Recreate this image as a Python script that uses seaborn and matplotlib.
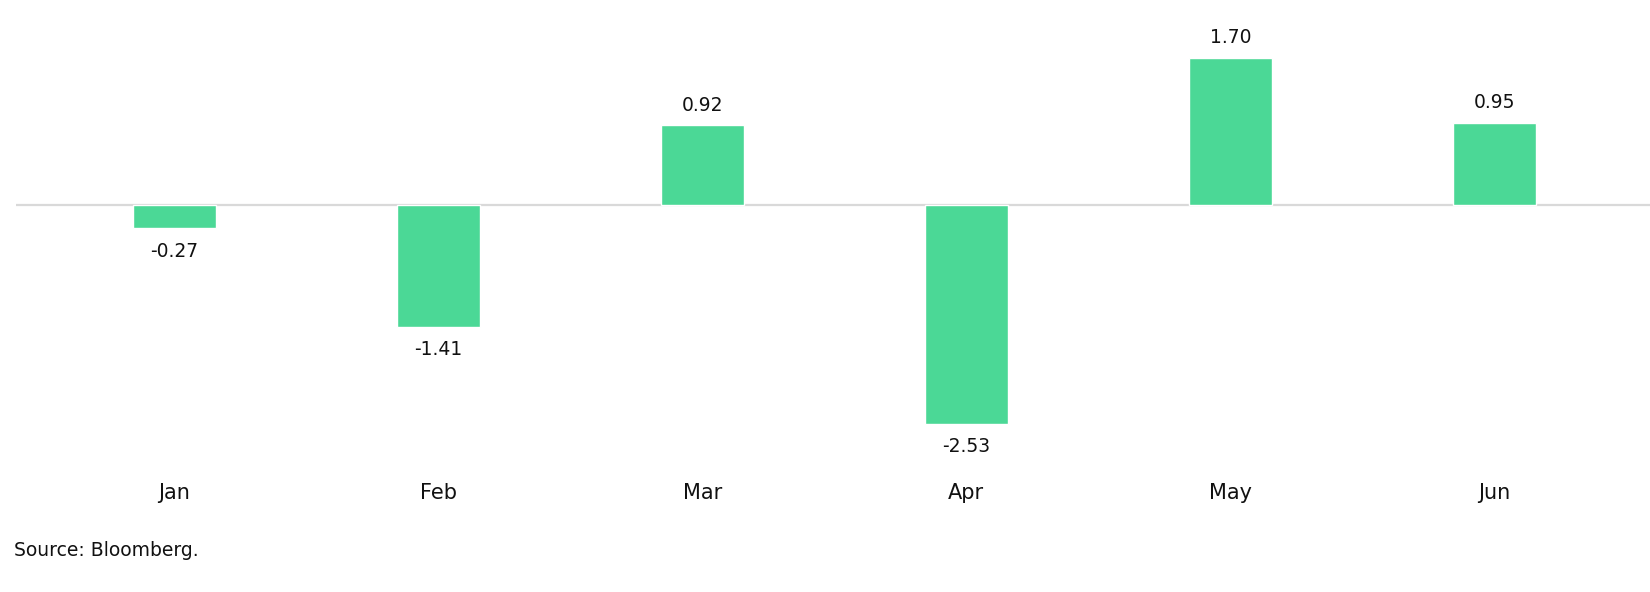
import matplotlib
matplotlib.use('Agg')
import matplotlib.pyplot as plt
import seaborn as sns
import pandas as pd

sns.set_style('white')
plt.rcParams['font.family'] = ['DejaVu Sans']

months = ['Jan', 'Feb', 'Mar', 'Apr', 'May', 'Jun']
returns = [-0.27, -1.41, 0.92, -2.53, 1.70, 0.95]
source_note = 'Source: Bloomberg.'

bar_color = '#4BD896'

df = pd.DataFrame({'month': months, 'value': returns})

fig = plt.figure(figsize=(16.5, 5.92), dpi=100)
ax = fig.add_axes([16 / 1650, (592 - 440) / 592, 1 - 16 / 1650, 420 / 592])

sns.barplot(data=df, x='month', y='value', color=bar_color, saturation=1,
            width=0.315, ax=ax)

ax.axhline(0, color='#d9d9d9', lw=1.6, zorder=0)

# value labels above / below bars
for i, v in enumerate(returns):
    off = 14.5 if v >= 0 else -16.5
    ax.annotate(f'{v:.2f}', (i, v), xytext=(0, off), textcoords='offset points',
                ha='center', va='center', fontsize=13.5, color='#111111')

ax.set_xlim(-0.6, 5.59)
ax.set_ylim(-2.714, 2.136)
ax.set_xlabel('')
ax.set_ylabel('')
ax.set_yticks([])
ax.tick_params(axis='x', length=0, pad=31, labelsize=15, labelcolor='#111111')
for s in ax.spines.values():
    s.set_visible(False)

fig.text(14 / 1650, 1 - 551 / 592, source_note, ha='left', va='center',
         fontsize=13.5, color='#111111')

fig.savefig('out.png', dpi=100)
